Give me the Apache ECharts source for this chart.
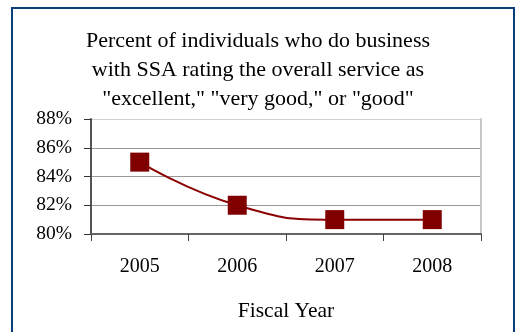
<!DOCTYPE html>
<html>
<head>
<meta charset="utf-8">
<script src="https://cdn.jsdelivr.net/npm/echarts@6/dist/echarts.min.js"></script>
<style>html,body{margin:0;padding:0;background:#fff}#c{width:516px;height:332px}</style>
</head>
<body>
<div id="c"></div>
<script>
const titleLines = ['Percent of individuals who do business', 'with SSA rating the overall service as', '"excellent," "very good," or "good"'];
const years = ['2005', '2006', '2007', '2008'];
const ratingPct = [85, 82, 81, 81];
const yMin = 80, yMax = 88, yStep = 2;
const xAxisTitle = 'Fiscal Year';

const serif = "'Liberation Serif', 'Times New Roman', serif";
const chart = echarts.init(document.getElementById('c'), null, {renderer: 'canvas'});
chart.setOption({
  animation: false,
  backgroundColor: '#fff',
  graphic: [{
    type: 'rect', z: -1,
    shape: {x: 12, y: 8, width: 502, height: 340},
    style: {fill: '#fff', stroke: '#0b3f78', lineWidth: 2}
  }],
  title: {
    text: titleLines.join('\n'),
    left: 'center', top: 22, padding: [5, 0, 5, 15],
    textStyle: {fontFamily: serif, fontSize: 22, fontWeight: 'normal', color: '#000', lineHeight: 29}
  },
  grid: {left: 91, right: 35, top: 119, bottom: 98},
  xAxis: {
    type: 'category', data: years, boundaryGap: true,
    axisLine: {lineStyle: {color: '#666', width: 2}},
    axisTick: {show: true, inside: false, length: 7, lineStyle: {color: '#444', width: 1}},
    axisLabel: {fontFamily: serif, fontSize: 20, color: '#000', margin: 23},
    name: xAxisTitle, nameLocation: 'middle', nameGap: 66,
    nameTextStyle: {fontFamily: serif, fontSize: 21.5, color: '#000'}
  },
  yAxis: [{
    type: 'value', min: yMin, max: yMax, interval: yStep,
    axisLine: {show: true, lineStyle: {color: '#555', width: 2}},
    axisTick: {show: true, inside: false, length: 7, lineStyle: {color: '#333', width: 1}},
    axisLabel: {fontFamily: serif, fontSize: 19.5, color: '#000', margin: 19, formatter: '{value}%'},
    splitLine: {show: true, lineStyle: {color: ['#999', '#999', '#999', '#999', '#d0d0d0'], width: 1}}
  }, {
    type: 'value', min: yMin, max: yMax, interval: yStep, position: 'right',
    axisLine: {show: true, lineStyle: {color: '#c8c8c8', width: 2}},
    axisTick: {show: false}, axisLabel: {show: false}, splitLine: {show: false}
  }],
  series: [{
    type: 'line', data: ratingPct, smooth: 0.5,
    lineStyle: {color: '#8b0000', width: 2},
    symbol: 'rect', symbolSize: 19,
    itemStyle: {color: '#800000'}
  }]
});
</script>
</body>
</html>
